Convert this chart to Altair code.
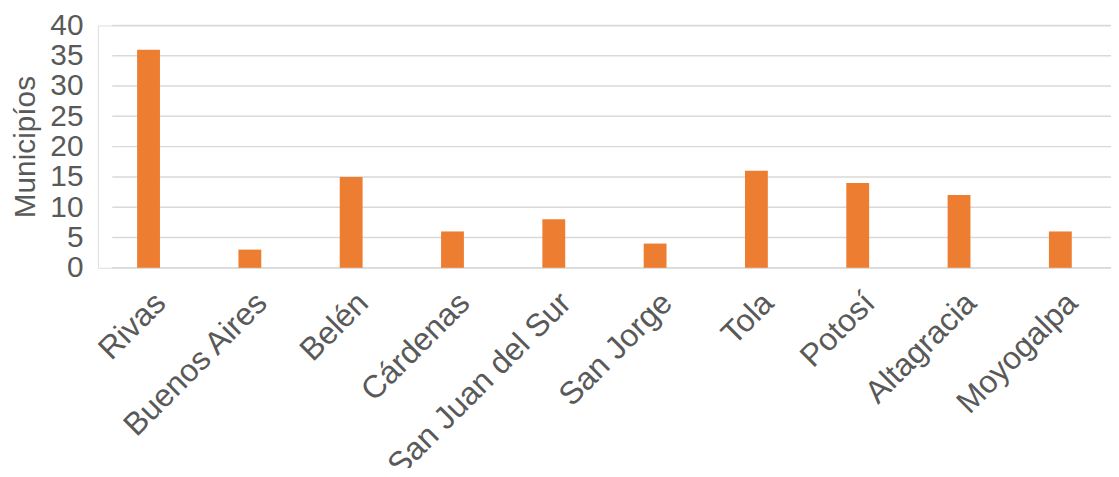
import altair as alt
import pandas as pd

municipios = ["Rivas", "Buenos Aires", "Belén", "Cárdenas", "San Juan del Sur",
              "San Jorge", "Tola", "Potosí", "Altagracia", "Moyogalpa"]
valores = [36, 3, 15, 6, 8, 4, 16, 14, 12, 6]
y_ticks = [0, 5, 10, 15, 20, 25, 30, 35, 40]

df = pd.DataFrame({"municipio": municipios, "valor": valores})
grid_df = pd.DataFrame({"t": y_ticks})

W, H = 1020, 244
FONT = "Liberation Sans"
GRAY = "#595959"
FS = 30

yscale = alt.Scale(domain=[0, 40])
yaxis = alt.Axis(title="Municipíos", values=y_ticks, grid=False,
                 ticks=False, domain=False, labelPadding=15,
                 labelFontSize=FS, labelColor=GRAY, labelFont=FONT,
                 titleFontSize=FS, titleColor=GRAY, titleFont=FONT,
                 titleFontWeight="normal", titleAngle=-90,
                 titleX=-73, titleY=H / 2, titleAlign="center",
                 titleBaseline="middle")

grid = alt.Chart(grid_df).mark_rule(color="#D9D9D9", strokeWidth=1.5).encode(
    x=alt.value(14.5), x2=alt.value(W),
    y=alt.Y("t:Q", scale=yscale, axis=yaxis),
)

bars = alt.Chart(df).mark_bar(color="#ED7D31", width=23).encode(
    x=alt.X("municipio:N", sort=municipios,
            scale=alt.Scale(paddingInner=0, paddingOuter=0),
            axis=alt.Axis(title=None, labelAngle=-45, labelAlign="right",
                          labelBaseline="middle", labelPadding=30,
                          labelOffset=12,
                          labelFontSize=32, labelColor=GRAY, labelFont=FONT,
                          labelLimit=1000,
                          ticks=False, domain=False, grid=False, labelOverlap=False)),
    y=alt.Y("valor:Q", scale=yscale, axis=yaxis),
)

chart = alt.layer(grid, bars).properties(
    width=W, height=H,
    autosize=alt.AutoSizeParams(type="none"),
    padding={"left": 90.5, "top": 16, "right": 0, "bottom": 200},
).configure_view(strokeWidth=0).configure(background="white")

chart.save("out.html", embed_options={"renderer": "svg", "actions": False})
